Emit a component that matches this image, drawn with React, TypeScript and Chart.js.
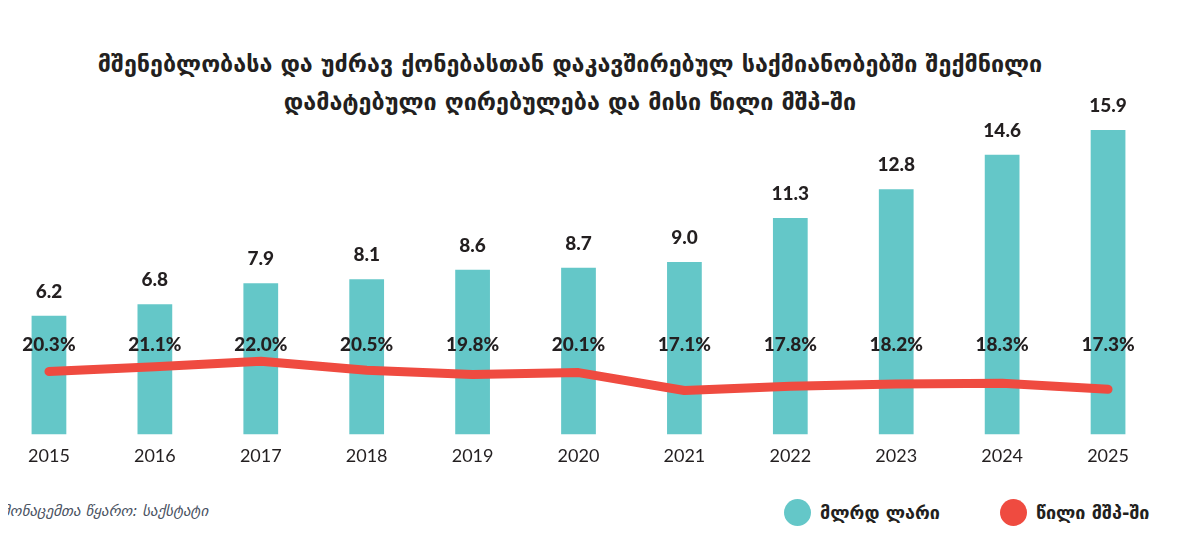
import { useEffect, useRef } from "react";
import { Chart, registerables } from "chart.js";

Chart.register(...registerables);

const years = ["2015", "2016", "2017", "2018", "2019", "2020", "2021", "2022", "2023", "2024", "2025"];
const valueAdded = [6.2, 6.8, 7.9, 8.1, 8.6, 8.7, 9.0, 11.3, 12.8, 14.6, 15.9];
const gdpShare = [20.3, 21.1, 22.0, 20.5, 19.8, 20.1, 17.1, 17.8, 18.2, 18.3, 17.3];

const titleLines = [
  "მშენებლობასა და უძრავ ქონებასთან დაკავშირებულ საქმიანობებში შექმნილი",
  "დამატებული ღირებულება და მისი წილი მშპ-ში",
];
const sourceText = "მონაცემთა წყარო: საქსტატი";
const legendBars = "მლრდ ლარი";
const legendLine = "წილი მშპ-ში";

const TEAL = "#64c7c8";
const RED = "#ef4b40";
const INK = "#231f20";
const GEO = "'DejaVu Sans', sans-serif";

const labelsPlugin = {
  id: "valueLabels",
  afterDatasetsDraw(chart: Chart) {
    const ctx = chart.ctx;
    const bars = chart.getDatasetMeta(1).data;
    ctx.save();
    ctx.fillStyle = INK;
    ctx.font = "900 19px Lato";
    ctx.textAlign = "center";
    ctx.textBaseline = "middle";
    bars.forEach((el: any, i: number) => {
      ctx.fillText(valueAdded[i].toFixed(1), el.x, el.y - 24);
      ctx.fillText(gdpShare[i].toFixed(1) + "%", el.x, chart.chartArea.bottom - 89.5);
    });
    ctx.restore();
  },
};

function ShareChart() {
  const canvasRef = useRef<HTMLCanvasElement>(null);
  const chartRef = useRef<Chart | null>(null);

  useEffect(() => {
    if (!canvasRef.current) return;
    if (chartRef.current) chartRef.current.destroy();

    chartRef.current = new Chart(canvasRef.current, {
      type: "bar",
      data: {
        labels: years,
        datasets: [
          {
            type: "line",
            label: legendLine,
            data: gdpShare,
            yAxisID: "y1",
            borderColor: RED,
            borderWidth: 9,
            borderCapStyle: "round",
            borderJoinStyle: "round",
            pointRadius: 0,
            tension: 0,
            order: 1,
          },
          {
            type: "bar",
            label: legendBars,
            data: valueAdded,
            yAxisID: "y",
            backgroundColor: TEAL,
            categoryPercentage: 1,
            barPercentage: 0.328,
            order: 2,
          },
        ],
      } as any,
      options: {
        animation: false,
        responsive: true,
        maintainAspectRatio: false,
        layout: { padding: { top: 47, bottom: 12, left: 0, right: 0 } },
        plugins: {
          legend: { display: false },
          tooltip: { enabled: false },
        },
        scales: {
          x: {
            grid: { display: false, drawTicks: false },
            border: { display: false },
            ticks: {
              color: INK,
              padding: 11,
              font: { family: "Lato", size: 18 },
            },
          },
          y: { display: false, min: 0, max: 17.1 },
          y1: { display: false, min: 9.75, max: 64.6 },
        },
      },
      plugins: [labelsPlugin],
    });

    return () => {
      if (chartRef.current) {
        chartRef.current.destroy();
        chartRef.current = null;
      }
    };
  }, []);

  return (
    <div style={{ position: "absolute", left: -4, top: 60, width: 1165, height: 430 }}>
      <canvas ref={canvasRef} />
    </div>
  );
}

const dot = (color: string) => ({
  display: "inline-block",
  width: 27,
  height: 27,
  borderRadius: "50%",
  background: color,
  marginRight: 9,
});

export default function App() {
  return (
    <div style={{ position: "relative", width: 1186, height: 542, margin: -8, overflow: "hidden", background: "#fff" }}>
      <div
        style={{
          position: "absolute",
          left: 0,
          top: 45,
          width: 1140,
          textAlign: "center",
          fontFamily: GEO,
          fontWeight: "bold",
          fontSize: 23.3,
          lineHeight: "38px",
          color: INK,
        }}
      >
        {titleLines.map((t) => (
          <div key={t}>{t}</div>
        ))}
      </div>
      <ShareChart />
      <div
        style={{
          position: "absolute",
          left: 2,
          top: 502,
          fontFamily: GEO,
          fontStyle: "italic",
          fontSize: 15,
          color: "#4a5262",
        }}
      >
        {sourceText}
      </div>
      <div
        style={{
          position: "absolute",
          left: 784,
          top: 499,
          display: "flex",
          alignItems: "center",
          fontFamily: GEO,
          fontWeight: "bold",
          fontSize: 18,
          color: INK,
        }}
      >
        <span style={dot(TEAL)} />
        <span style={{ marginRight: 60 }}>{legendBars}</span>
        <span style={dot(RED)} />
        <span>{legendLine}</span>
      </div>
    </div>
  );
}
